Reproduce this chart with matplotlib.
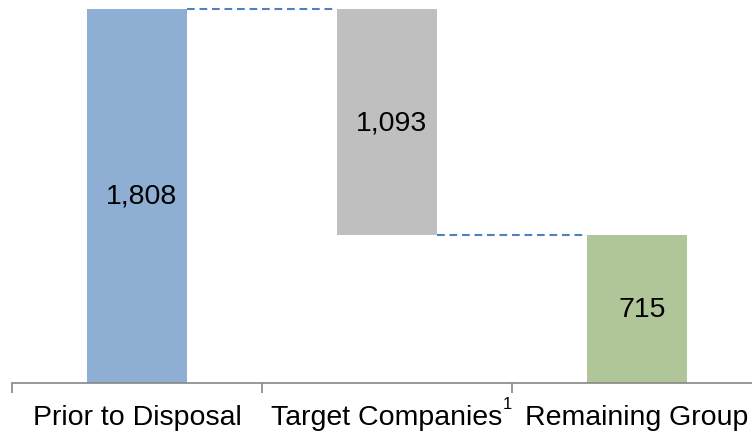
import matplotlib
matplotlib.use("Agg")
import matplotlib.pyplot as plt

categories = ["Prior to Disposal", "Target Companies", "Remaining Group"]
start_value = 1808
disposed = 1093
remaining = 715

bar_colors = ["#8EAFD3", "#BFBFBF", "#B0C698"]
line_color = "#4F81BD"

plt.rcParams["font.family"] = ["Liberation Sans", "DejaVu Sans"]

fig = plt.figure(figsize=(7.52, 4.35), dpi=100)
ax = fig.add_axes((12 / 752, 1 - 384 / 435, 750 / 752, 374 / 435))

width = 0.4
bottoms = [0, start_value - disposed, 0]
heights = [start_value, disposed, remaining]
xs = range(len(categories))
ax.bar(xs, heights, bottom=bottoms, width=width, color=bar_colors, zorder=2)

# value labels in the middle of each bar
for x, b, h in zip(xs, bottoms, heights):
    ax.text(x + 0.02, b + h / 2, f"{h:,}", ha="center", va="center", fontsize=20.5)

# dashed connectors
dash = (0, (3.7, 2.3))
ax.plot([0 + width / 2, 1 - width / 2], [start_value] * 2, ls=dash,
        color=line_color, lw=1.5, zorder=1, clip_on=False)
ax.plot([1 + width / 2, 2 - width / 2], [start_value - disposed] * 2, ls=dash,
        color=line_color, lw=1.5, zorder=1, clip_on=False)

ax.set_xlim(-0.5, 2.5)
ax.set_ylim(0, start_value)
for s in ["top", "right", "left"]:
    ax.spines[s].set_visible(False)
ax.spines["bottom"].set_color("#868686")
ax.spines["bottom"].set_linewidth(1.2)
ax.set_yticks([])

ax.set_xticks([-0.5, 0.5, 1.5, 2.5])
ax.set_xticklabels([])
ax.tick_params(axis="x", which="major", direction="out", length=7, color="#868686", width=1.2)
ax.set_xticks(list(xs), minor=True)
ax.set_xticklabels(categories, minor=True, fontsize=20.5)
ax.tick_params(axis="x", which="minor", length=0, pad=15)

# footnote marker on second label
ax.annotate("1", xy=(1.48, 0), xycoords=("data", "axes fraction"),
            xytext=(0, -15), textcoords="offset points", fontsize=12,
            ha="center", va="center")

fig.savefig("out.png", dpi=100)
